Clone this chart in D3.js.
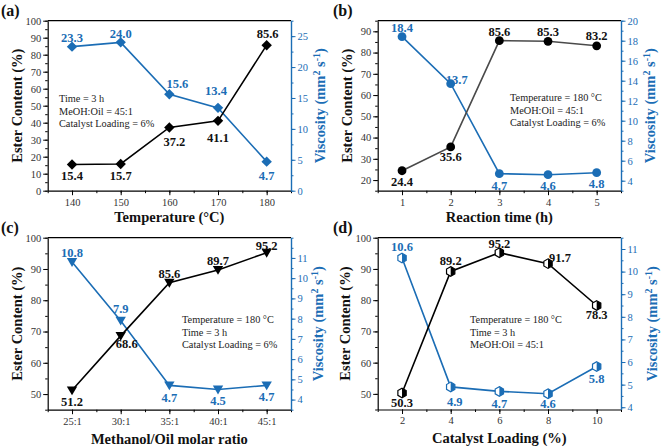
<!DOCTYPE html>
<html><head><meta charset="utf-8">
<script src="https://cdn.jsdelivr.net/npm/d3@7"></script>
<style>
html,body{margin:0;padding:0;background:#fff;}
svg{display:block;}
</style></head>
<body>
<svg id="chart" width="661" height="447"></svg>
<script>
// ---- data ----
const tempX = [140,150,160,170,180];
const esterA = [15.4,15.7,37.2,41.1,85.6];
const viscA = [23.3,24.0,15.6,13.4,4.7];

const timeX = [1,2,3,4,5];
const esterB = [24.4,35.6,85.6,85.3,83.2];
const viscB = [18.4,13.7,4.7,4.6,4.8];

const ratioCats = ["25:1","30:1","35:1","40:1","45:1"];
const esterC = [51.2,68.6,85.6,89.7,95.2];
const viscC = [10.8,7.9,4.7,4.5,4.7];

const loadingX = [2,4,6,8,10];
const esterD = [50.3,89.2,95.2,91.7,78.3];
const viscD = [10.6,4.9,4.7,4.6,5.8];

const annA = ["Time = 3 h","MeOH:Oil = 45:1","Catalyst Loading = 6%"];
const annB = ["Temperature = 180 °C","MeOH:Oil = 45:1","Catalyst Loading = 6%"];
const annC = ["Temperature = 180 °C","Time = 3 h","Catalyst Loading = 6%"];
const annD = ["Temperature = 180 °C","Time = 3 h","MeOH:Oil = 45:1"];

// ---- styling ----
const BLUE = "#1b6db5";
const FONT = "Liberation Serif, Times New Roman, serif";
const svg = d3.select("#chart").attr("font-family", FONT);

const panels = [
  {label:"(a)", lx:1, ly:16, box:[47.7,291,20.7,190.7], xDom:[135,185], xs:tempX, xTicks:tempX, xMinor:d3.range(135,186,5),
   xTitle:"Temperature (°C)", xTitleY:222, ester:esterA, visc:viscA,
   lDom:[0,100], lTicks:d3.range(0,101,10), lMinor:d3.range(0,101,5),
   rDom:[0,27.5], rTicks:d3.range(0,26,5), rMinor:d3.range(0,27.6,2.5),
   marker:"diamond", eLine:"#000",
   eOff:[[0,11],[0,11],[5,14.5],[0,16.5],[1,-12]],
   vOff:[[0,-9.5],[0,-9],[8,-10.8],[-2,-17],[0,13.4]],
   ann:annA, annX:59, annY:102, lTitleX:17, rTitleX:320},
  {label:"(b)", lx:333, ly:16, box:[377.7,621,20.7,190.7], xDom:[0.5,5.5], xs:timeX, xTicks:timeX, xMinor:d3.range(0.5,5.6,0.5),
   xTitle:"Reaction time (h)", xTitleY:222, ester:esterB, visc:viscB,
   lDom:[15,95], lTicks:d3.range(20,91,10), lMinor:d3.range(15,96,5),
   rDom:[3,20], rTicks:d3.range(4,21,2), rMinor:d3.range(3,20.1,1),
   marker:"circle", eLine:"#4a4a4a",
   eOff:[[0,11],[0,9.5],[0,-9],[0,-9.6],[0,-10.7]],
   vOff:[[0,-9.3],[6,-4],[0,11.3],[0,11],[0,11]],
   ann:annB, annX:510, annY:101, lTitleX:347, rTitleX:650},
  {label:"(c)", lx:1, ly:233, box:[47.7,291,237.7,409.7], xDom:[-0.5,4.5], xs:[0,1,2,3,4], xTicks:[0,1,2,3,4], xMinor:d3.range(-0.5,4.6,0.5),
   xFmt:i=>ratioCats[i],
   xTitle:"Methanol/Oil molar ratio", xTitleY:444, ester:esterC, visc:viscC,
   lDom:[45,100], lTicks:d3.range(50,101,10), lMinor:d3.range(45,101,5),
   rDom:[3.5,12], rTicks:d3.range(4,12,1), rMinor:d3.range(3.5,12.01,0.5),
   marker:"tri", eLine:"#000",
   eOff:[[0,11],[6,8],[0,-9],[0,-9],[0,-7.4]],
   vOff:[[0,-9.7],[0,-11.7],[0,12.5],[0,10.7],[0,11]],
   ann:annC, annX:182, annY:323, lTitleX:17, rTitleX:318},
  {label:"(d)", lx:333, ly:233, box:[377.7,621,237.7,409.5], xDom:[1,11], xs:loadingX, xTicks:loadingX, xMinor:d3.range(1,11.1,1),
   xTitle:"Catalyst Loading (%)", xTitleY:443, ester:esterD, visc:viscD,
   lDom:[45,100], lTicks:d3.range(50,101,10), lMinor:d3.range(45,101,5),
   rDom:[3.9,11.5], rTicks:d3.range(4,12,1), rMinor:d3.range(4,11.51,0.5),
   marker:"hex", eLine:"#000",
   eOff:[[0,9.3],[0,-11],[0,-9],[12,-6.3],[0,9]],
   vOff:[[0,-11.7],[4,15],[0,12],[0,10],[0,12]],
   ann:annD, annX:470, annY:323, lTitleX:345, rTitleX:652}
];

function markerPath(type, r){
  if(type==="diamond") return `M0,${-r}L${r},0L0,${r}L${-r},0Z`;
  if(type==="tri") return `M${-r},${-r*0.75}L${r},${-r*0.75}L0,${r*0.95}Z`;
  if(type==="hex"){
    const pts = d3.range(6).map(k=>{const a=Math.PI/3*k - Math.PI/2; return [r*Math.cos(a), r*Math.sin(a)];});
    return "M"+pts.map(p=>p.join(",")).join("L")+"Z";
  }
  return null;
}

function drawMarker(g, type, x, y, color){
  if(type==="circle"){
    g.append("circle").attr("cx",x).attr("cy",y).attr("r",4.4).attr("fill",color);
  } else if(type==="hex"){
    const r=4.8;
    g.append("path").attr("d",markerPath("hex",r)).attr("transform",`translate(${x},${y})`)
      .attr("fill","#fff").attr("stroke",color).attr("stroke-width",1.2);
    const c=r*Math.cos(Math.PI/6);
    g.append("path").attr("d",`M0,${-r}L${c},${-r/2}L${c},${r/2}L0,${r}Z`)
      .attr("transform",`translate(${x},${y})`).attr("fill",color);
  } else {
    g.append("path").attr("d",markerPath(type,5.2)).attr("transform",`translate(${x},${y})`).attr("fill",color);
  }
}

function styleTickText(sel, color){
  sel.selectAll("text").attr("font-size",10.5).attr("fill",color).attr("font-family",FONT);
}

panels.forEach(p=>{
  const [x0,x1,y0,y1] = p.box;
  const g = svg.append("g");
  const x = d3.scaleLinear().domain(p.xDom).range([x0,x1]);
  const yl = d3.scaleLinear().domain(p.lDom).range([y1,y0]);
  const yr = d3.scaleLinear().domain(p.rDom).range([y1,y0]);

  g.append("line").attr("x1",x0).attr("x2",x1).attr("y1",y0).attr("y2",y0).attr("stroke","#000").attr("stroke-width",1.2);

  // minor ticks
  g.append("g").attr("transform",`translate(0,${y1})`)
    .call(d3.axisBottom(x).tickValues(p.xMinor).tickSize(2.5).tickFormat("").tickSizeOuter(0))
    .call(a=>a.select(".domain").remove()).selectAll("line").attr("stroke","#000");
  g.append("g").attr("transform",`translate(${x0},0)`)
    .call(d3.axisLeft(yl).tickValues(p.lMinor).tickSize(2.5).tickFormat("").tickSizeOuter(0))
    .call(a=>a.select(".domain").remove()).selectAll("line").attr("stroke","#000");
  g.append("g").attr("transform",`translate(${x1},0)`)
    .call(d3.axisRight(yr).tickValues(p.rMinor).tickSize(2.5).tickFormat("").tickSizeOuter(0))
    .call(a=>a.select(".domain").remove()).selectAll("line").attr("stroke",BLUE);

  // major axes
  const xa = g.append("g").attr("transform",`translate(0,${y1})`)
    .call(d3.axisBottom(x).tickValues(p.xTicks).tickSize(4.5).tickPadding(3).tickSizeOuter(0).tickFormat(p.xFmt||d3.format("d")));
  xa.select(".domain").attr("stroke","#000").attr("stroke-width",1.2);
  xa.selectAll("line").attr("stroke","#000");
  styleTickText(xa,"#333");

  const la = g.append("g").attr("transform",`translate(${x0},0)`)
    .call(d3.axisLeft(yl).tickValues(p.lTicks).tickSize(4.5).tickPadding(2).tickSizeOuter(0).tickFormat(d3.format("d")));
  la.select(".domain").attr("stroke","#000").attr("stroke-width",1.2);
  la.selectAll("line").attr("stroke","#000");
  styleTickText(la,"#333");

  const ra = g.append("g").attr("transform",`translate(${x1},0)`)
    .call(d3.axisRight(yr).tickValues(p.rTicks).tickSize(4.5).tickPadding(2).tickSizeOuter(0).tickFormat(d3.format("d")));
  ra.select(".domain").attr("stroke",BLUE).attr("stroke-width",1.4);
  ra.selectAll("line").attr("stroke",BLUE);
  styleTickText(ra,BLUE);

  // lines
  const idx = d3.range(p.xs.length);
  g.append("path").datum(idx).attr("fill","none").attr("stroke",BLUE).attr("stroke-width",1.6)
    .attr("d", d3.line().x(i=>x(p.xs[i])).y(i=>yr(p.visc[i])));
  g.append("path").datum(idx).attr("fill","none").attr("stroke",p.eLine).attr("stroke-width",1.6)
    .attr("d", d3.line().x(i=>x(p.xs[i])).y(i=>yl(p.ester[i])));

  idx.forEach(i=>{
    drawMarker(g, p.marker, x(p.xs[i]), yr(p.visc[i]), BLUE);
    drawMarker(g, p.marker, x(p.xs[i]), yl(p.ester[i]), "#000");
  });

  // value labels
  const fmt = d3.format(".1f");
  idx.forEach(i=>{
    g.append("text").attr("x",x(p.xs[i])+p.eOff[i][0]).attr("y", yl(p.ester[i])+p.eOff[i][1]).attr("dy","0.36em")
      .attr("text-anchor","middle").attr("font-weight","bold").attr("font-size",12.5).attr("fill","#111")
      .attr("font-family",FONT).text(fmt(p.ester[i]));
    g.append("text").attr("x",x(p.xs[i])+p.vOff[i][0]).attr("y", yr(p.visc[i])+p.vOff[i][1]).attr("dy","0.36em")
      .attr("text-anchor","middle").attr("font-weight","bold").attr("font-size",12.5).attr("fill",BLUE)
      .attr("font-family",FONT).text(fmt(p.visc[i]));
  });

  p.ann.forEach((t,k)=>{
    g.append("text").attr("x",p.annX).attr("y",p.annY + k*12.6).attr("font-size",10.3).attr("fill","#222")
      .attr("font-family",FONT).text(t);
  });

  const cy = (y0+y1)/2;
  g.append("text").attr("transform",`translate(${p.lTitleX},${cy}) rotate(-90)`).attr("text-anchor","middle")
    .attr("dy","0.35em").attr("font-weight","bold").attr("font-size",14.5).attr("fill","#111")
    .attr("font-family",FONT).text("Ester Content (%)");
  const rt = g.append("text").attr("transform",`translate(${p.rTitleX},${cy}) rotate(-90)`).attr("text-anchor","middle")
    .attr("dy","0.35em").attr("font-weight","bold").attr("font-size",14.5).attr("fill",BLUE).attr("font-family",FONT);
  rt.append("tspan").text("Viscosity (mm");
  rt.append("tspan").attr("baseline-shift","super").attr("font-size",10).text("2");
  rt.append("tspan").text(" s");
  rt.append("tspan").attr("baseline-shift","super").attr("font-size",10).text("-1");
  rt.append("tspan").text(")");

  g.append("text").attr("x",(x0+x1)/2).attr("y",p.xTitleY).attr("text-anchor","middle")
    .attr("font-weight","bold").attr("font-size",14.5).attr("fill","#111").attr("font-family",FONT).text(p.xTitle);

  g.append("text").attr("x",p.lx).attr("y",p.ly).attr("font-weight","bold").attr("font-size",16).attr("fill","#111")
    .attr("font-family",FONT).text(p.label);
});
</script>
</body></html>
